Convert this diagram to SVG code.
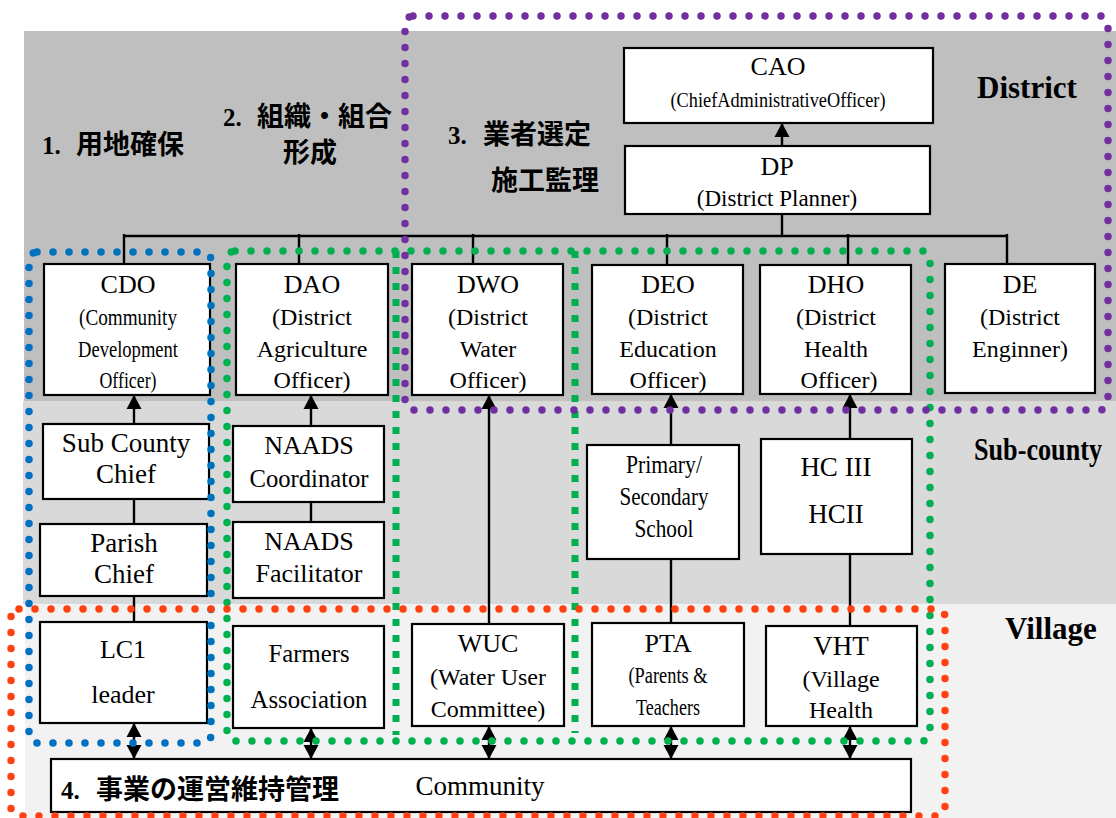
<svg xmlns="http://www.w3.org/2000/svg" width="1116" height="818" viewBox="0 0 1116 818">
<style>
.box{fill:#fff;stroke:#000;stroke-width:2.2}
.t{font-family:"Liberation Serif","Times New Roman",serif;fill:#000;text-anchor:middle}
.t26{font-size:26px}
.t24{font-size:24px}
.lab{font-family:"Liberation Serif","Noto Sans CJK JP",serif;font-weight:bold;fill:#000}
.jp{font-family:"Noto Sans CJK JP",sans-serif;font-size:27px;font-weight:bold}
.num{font-size:25px}
.lvl{font-family:"Liberation Serif","Times New Roman",serif;font-weight:bold;font-size:31px;fill:#000}
.dot{fill:none;stroke-width:7.5;stroke-linecap:round;stroke-dasharray:0 16}
.sq{fill:none;stroke:#00b050;stroke-width:7;stroke-dasharray:7 9}
.ln{stroke:#000;stroke-width:2.4;fill:none}
.ar{stroke:#000;stroke-width:2.4;fill:none;marker-end:url(#ah)}
.da{stroke:#000;stroke-width:2.4;fill:none;marker-start:url(#ah);marker-end:url(#ah)}
</style>
<defs>
<marker id="ah" markerUnits="userSpaceOnUse" markerWidth="16" markerHeight="16" refX="14" refY="8" orient="auto-start-reverse">
<path d="M0,0.5 L14,8 L0,15.5 z" fill="#000"/>
</marker>
</defs>
<g id="bands">
<rect x="24" y="31" width="1092" height="370" fill="#bfbfbf"/>
<rect x="23" y="401" width="1093" height="203" fill="#d9d9d9"/>
<rect x="25" y="604" width="1091" height="214" fill="#f2f2f2"/>
</g>
<g id="labels">
<text class="lab num" x="42" y="154">1.<tspan class="jp" x="76">用地確保</tspan></text>
<text class="lab num" x="223" y="126">2.<tspan class="jp" x="257">組織・組合</tspan></text>
<text class="jp" x="283" y="162">形成</text>
<text class="lab num" x="448" y="144">3.<tspan class="jp" x="483">業者選定</tspan></text>
<text class="jp" x="491" y="190">施工監理</text>
<text class="lvl" x="977" y="98">District</text>
<text class="lvl" x="974" y="460" font-size="26" textLength="128" lengthAdjust="spacingAndGlyphs">Sub-county</text>
<text class="lvl" x="1005" y="639">Village</text>
</g>
<g id="connectors">
<line class="ln" x1="123" y1="236" x2="1008" y2="236"/>
<line class="ln" x1="782" y1="214" x2="782" y2="236"/>
<line class="ln" x1="124" y1="234" x2="124" y2="264"/>
<line class="ln" x1="299" y1="234" x2="299" y2="264"/>
<line class="ln" x1="473" y1="234" x2="473" y2="264"/>
<line class="ln" x1="667" y1="234" x2="667" y2="265"/>
<line class="ln" x1="848" y1="234" x2="848" y2="265"/>
<line class="ln" x1="1007" y1="234" x2="1007" y2="264"/>
<line class="ar" x1="782" y1="146" x2="782" y2="123"/>
<line class="ar" x1="134" y1="424" x2="134" y2="395"/>
<line class="ln" x1="134" y1="499" x2="134" y2="524"/>
<line class="ln" x1="134" y1="596" x2="134" y2="622"/>
<line class="da" x1="134" y1="723" x2="134" y2="759"/>
<line class="ar" x1="311" y1="426" x2="311" y2="395"/>
<line class="ln" x1="311" y1="502" x2="311" y2="522"/>
<line class="da" x1="311" y1="728" x2="311" y2="759"/>
<line class="ar" x1="489" y1="624" x2="489" y2="395"/>
<line class="da" x1="489" y1="726" x2="489" y2="759"/>
<line class="ar" x1="671" y1="445" x2="671" y2="394"/>
<line class="ln" x1="671" y1="559" x2="671" y2="623"/>
<line class="da" x1="671" y1="726" x2="671" y2="759"/>
<line class="ar" x1="850" y1="439" x2="850" y2="394"/>
<line class="ln" x1="850" y1="554" x2="850" y2="626"/>
<line class="da" x1="850" y1="726" x2="850" y2="759"/>
</g>
<g id="CAO"><rect class="box" x="624" y="48" width="309" height="75"/>
<text class="t t26" x="778" y="75">CAO</text>
<text class="t" x="778" y="107" font-size="20" textLength="215" lengthAdjust="spacingAndGlyphs">(ChiefAdministrativeOfficer)</text></g>
<g id="DP"><rect class="box" x="625" y="146" width="305" height="68"/>
<text class="t t26" x="777" y="175">DP</text>
<text class="t" x="777" y="206" font-size="23">(District Planner)</text></g>
<g id="CDO"><rect class="box" x="44" y="264" width="166" height="131"/>
<text class="t t26" x="128" y="293">CDO</text>
<text class="t t24" x="128" y="325" textLength="98" lengthAdjust="spacingAndGlyphs">(Community</text>
<text class="t t24" x="128" y="357" textLength="100" lengthAdjust="spacingAndGlyphs">Development</text>
<text class="t t24" x="128" y="388" textLength="57" lengthAdjust="spacingAndGlyphs">Officer)</text></g>
<g id="DAO"><rect class="box" x="236" y="264" width="152" height="131"/>
<text class="t t26" x="312" y="293">DAO</text>
<text class="t t24" x="312" y="325">(District</text>
<text class="t t24" x="312" y="357">Agriculture</text>
<text class="t t24" x="312" y="388">Officer)</text></g>
<g id="DWO"><rect class="box" x="412" y="264" width="151" height="131"/>
<text class="t t26" x="488" y="293">DWO</text>
<text class="t t24" x="488" y="325">(District</text>
<text class="t t24" x="488" y="357">Water</text>
<text class="t t24" x="488" y="388">Officer)</text></g>
<g id="DEO"><rect class="box" x="592" y="265" width="151" height="129"/>
<text class="t t26" x="668" y="293">DEO</text>
<text class="t t24" x="668" y="325">(District</text>
<text class="t t24" x="668" y="357">Education</text>
<text class="t t24" x="668" y="388">Officer)</text></g>
<g id="DHO"><rect class="box" x="760" y="265" width="151" height="129"/>
<text class="t t26" x="836" y="293">DHO</text>
<text class="t t24" x="836" y="325">(District</text>
<text class="t t24" x="836" y="357">Health</text>
<text class="t t24" x="839" y="388">Officer)</text></g>
<g id="DE"><rect class="box" x="945" y="264" width="150" height="129"/>
<text class="t t26" x="1020" y="293">DE</text>
<text class="t t24" x="1020" y="325">(District</text>
<text class="t t24" x="1020" y="357">Enginner)</text></g>
<g id="SubCountyChief"><rect class="box" x="43" y="424" width="166" height="75"/>
<text class="t" font-size="27" x="126" y="452">Sub County</text>
<text class="t" font-size="27" x="126" y="483">Chief</text></g>
<g id="ParishChief"><rect class="box" x="40" y="524" width="167" height="72"/>
<text class="t" font-size="27" x="124" y="552">Parish</text>
<text class="t" font-size="27" x="124" y="583">Chief</text></g>
<g id="NAADSCoordinator"><rect class="box" x="233" y="426" width="151" height="76"/>
<text class="t t26" x="309" y="454">NAADS</text>
<text class="t t26" x="309" y="487" textLength="119" lengthAdjust="spacingAndGlyphs">Coordinator</text></g>
<g id="NAADSFacilitator"><rect class="box" x="233" y="522" width="151" height="76"/>
<text class="t t26" x="309" y="550">NAADS</text>
<text class="t t26" x="309" y="582">Facilitator</text></g>
<g id="School"><rect class="box" x="587" y="445" width="152" height="114"/>
<text class="t" font-size="25" x="664" y="473" textLength="76" lengthAdjust="spacingAndGlyphs">Primary/</text>
<text class="t" font-size="25" x="664" y="505" textLength="89" lengthAdjust="spacingAndGlyphs">Secondary</text>
<text class="t" font-size="25" x="664" y="537" textLength="59" lengthAdjust="spacingAndGlyphs">School</text></g>
<g id="HC"><rect class="box" x="761" y="439" width="151" height="115"/>
<text class="t" font-size="27" x="836" y="476">HC III</text>
<text class="t" font-size="27" x="836" y="523">HCII</text></g>
<g id="LC1"><rect class="box" x="40" y="622" width="167" height="101"/>
<text class="t t26" x="123" y="658">LC1</text>
<text class="t t26" x="123" y="703">leader</text></g>
<g id="Farmers"><rect class="box" x="233" y="626" width="151" height="102"/>
<text class="t t26" x="309" y="662" textLength="81" lengthAdjust="spacingAndGlyphs">Farmers</text>
<text class="t t26" x="309" y="708" textLength="117" lengthAdjust="spacingAndGlyphs">Association</text></g>
<g id="WUC"><rect class="box" x="412" y="624" width="152" height="102"/>
<text class="t t26" x="488" y="652">WUC</text>
<text class="t t24" x="488" y="685">(Water User</text>
<text class="t t24" x="488" y="717">Committee)</text></g>
<g id="PTA"><rect class="box" x="592" y="623" width="152" height="103"/>
<text class="t t26" x="668" y="652">PTA</text>
<text class="t t24" x="668" y="683" textLength="79" lengthAdjust="spacingAndGlyphs">(Parents &amp;</text>
<text class="t t24" x="668" y="715" textLength="64" lengthAdjust="spacingAndGlyphs">Teachers</text></g>
<g id="VHT"><rect class="box" x="766" y="626" width="151" height="100"/>
<text class="t" font-size="27" x="841" y="655">VHT</text>
<text class="t t24" x="841" y="687">(Village</text>
<text class="t t24" x="841" y="718">Health</text></g>
<g id="Community"><rect class="box" x="51" y="759" width="860" height="53"/>
<text class="t" font-size="27" x="480" y="795">Community</text>
<text class="lab num" x="61" y="799">4.<tspan class="jp" x="96">事業の運営維持管理</tspan></text></g>
<g id="groups">
<rect class="dot" x="29" y="252" width="182" height="491" rx="8" stroke="#0070c0"/>
<rect class="dot" x="227" y="251" width="703" height="490" rx="8" stroke="#00b050"/>
<line class="sq" x1="396" y1="251" x2="396" y2="735"/>
<line class="sq" x1="575" y1="251" x2="575" y2="733"/>
<rect class="dot" x="405" y="16" width="703" height="394" rx="8" stroke="#7030a0"/>
<rect class="dot" x="11" y="609" width="934" height="207" rx="8" stroke="#ff4010"/>
</g>
</svg>
